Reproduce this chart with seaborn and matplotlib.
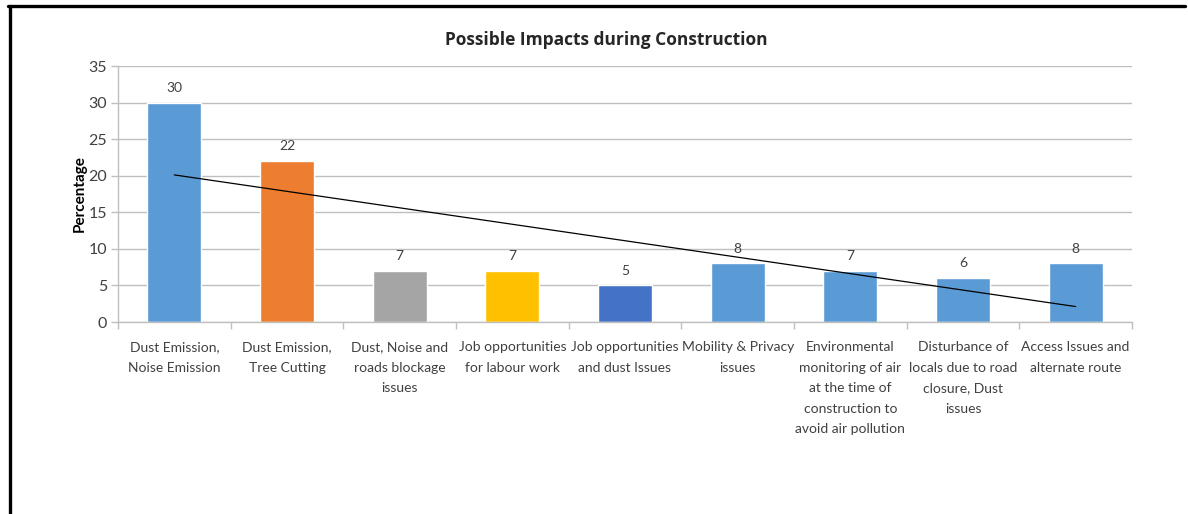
import numpy as np
import pandas as pd
import matplotlib
matplotlib.use("Agg")
import matplotlib.pyplot as plt
from matplotlib.lines import Line2D
import seaborn as sns

categories = [
    "Dust Emission,\nNoise Emission",
    "Dust Emission,\nTree Cutting",
    "Dust, Noise and\nroads blockage\nissues",
    "Job opportunities\nfor labour work",
    "Job opportunities\nand dust Issues",
    "Mobility & Privacy\nissues",
    "Environmental\nmonitoring of air\nat the time of\nconstruction to\navoid air pollution",
    "Disturbance of\nlocals due to road\nclosure, Dust\nissues",
    "Access Issues and\nalternate route",
]
percentages = [30, 22, 7, 7, 5, 8, 7, 6, 8]
bar_colors = ["#5B9BD5", "#ED7D31", "#A5A5A5", "#FFC000", "#4472C4",
              "#5B9BD5", "#5B9BD5", "#5B9BD5", "#5B9BD5"]
y_ticks = [0, 5, 10, 15, 20, 25, 30, 35]

sns.set_theme(style="white")
plt.rcParams["font.family"] = ["Lato", "DejaVu Sans"]

df = pd.DataFrame({"impact": categories, "pct": percentages})

fig = plt.figure(figsize=(11.88, 5.14), dpi=100)
ax = fig.add_axes([118 / 1188, 1 - 322 / 514, (1132 - 118) / 1188, 256 / 514])

sns.barplot(data=df, x="impact", y="pct", hue="impact", palette=bar_colors,
            legend=False, width=0.48, ax=ax, saturation=1)

# linear trend across the categories
xs = np.arange(len(percentages))
slope, intercept = np.polyfit(xs, percentages, 1)
ax.plot(xs, slope * xs + intercept, color="black", lw=0.9, zorder=4)

for i, v in enumerate(percentages):
    ax.text(i, v + 1.2, str(v), ha="center", va="bottom", fontsize=10, color="#404040")

ax.set_ylim(0, 35)
ax.set_xlim(-0.5, len(categories) - 0.5)
ax.set_yticks(y_ticks)
ax.yaxis.grid(True, color="#BFBFBF", lw=1)
ax.set_axisbelow(True)
ax.set_xlabel("")
ax.set_ylabel("Percentage", fontsize=11, fontweight="bold", color="black")
ax.yaxis.set_label_coords(-31 / 1014, 0.5)

for s in ["top", "right"]:
    ax.spines[s].set_visible(False)
for s in ["left", "bottom"]:
    ax.spines[s].set_color("#BFBFBF")
    ax.spines[s].set_linewidth(1)

ax.tick_params(axis="y", labelsize=11.5, colors="#404040", length=5, width=1,
               color="#BFBFBF", left=True, pad=3)
ax.set_xticks(xs)
ax.set_xticklabels(categories, fontsize=10, color="#404040", linespacing=1.85)
ax.tick_params(axis="x", length=0, pad=14)
# category boundary ticks
ax.set_xticks(np.arange(-0.5, len(categories), 1), minor=True)
ax.tick_params(axis="x", which="minor", bottom=True, length=5, width=1, color="#BFBFBF")
for lab in ax.get_xticklabels():
    lab.set_va("top")

fig.text(606 / 1188, 1 - 40 / 514, "Possible Impacts during Construction",
         ha="center", va="center", fontsize=12.5, fontweight="bold",
         color="#262626", family=["Open Sans", "DejaVu Sans"])

# outer frame of the chart area
fig.add_artist(Line2D([9.5 / 1188, 9.5 / 1188], [0, 1 - 5.5 / 514],
                      transform=fig.transFigure, color="black", lw=2.4))
fig.add_artist(Line2D([8 / 1188, 1185 / 1188], [1 - 5.5 / 514, 1 - 5.5 / 514],
                      transform=fig.transFigure, color="black", lw=2.4))

fig.savefig("out.png", dpi=100)
